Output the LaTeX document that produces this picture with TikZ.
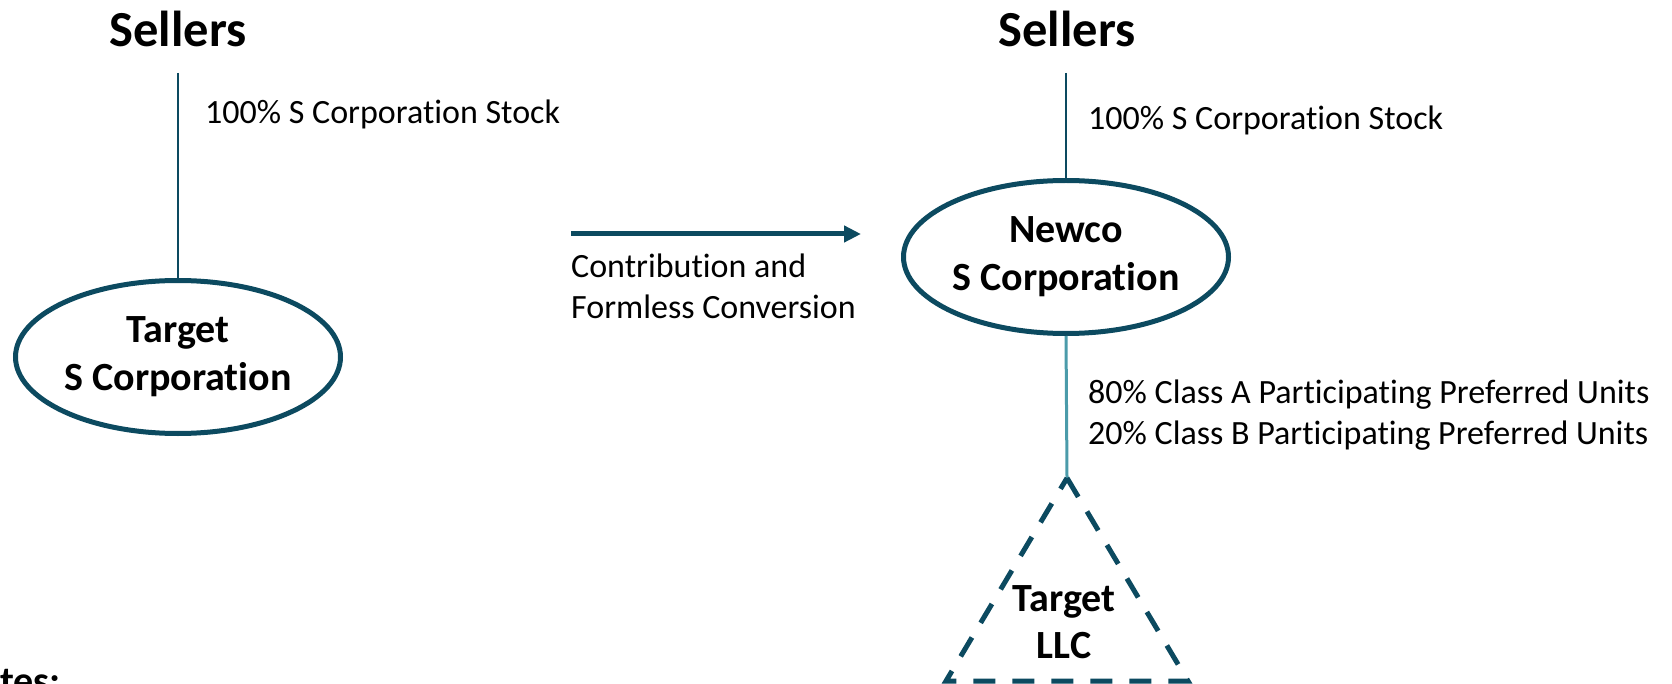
\documentclass[tikz,border=0pt]{standalone}
\usepackage{fontspec}
\setmainfont{Carlito}[RawFeature={-liga}]
\usetikzlibrary{shapes.geometric,arrows.meta}
\definecolor{dteal}{HTML}{0C4A60}
\definecolor{lteal}{HTML}{4B9BAA}
\begin{document}
\begin{tikzpicture}[x=1pt,y=-1pt,
  title/.style={font=\fontsize{50.5}{60}\selectfont\bfseries, inner sep=0pt, anchor=base},
  lbl/.style={font=\fontsize{34}{41}\selectfont, inner sep=0pt, anchor=base west, align=left},
  entity/.style={ellipse, draw=dteal, line width=5pt, minimum width=325pt, minimum height=153pt, inner sep=0pt, align=center, font=\fontsize{40}{48}\selectfont\bfseries},
  link/.style={draw=dteal, line width=2.5pt},
  ]
\useasboundingbox (0,0) rectangle (1672,684);
% left structure
\node[title] (sellersL) at (178,47) {Sellers};
\coordinate (topL) at (178,73);
\node[entity] (targetS) at (178,357) {Target\\S Corporation};
\draw[link] (topL) -- (targetS.north);
\node[lbl] (stockL) at (205,124) {100\% S Corporation Stock};
% arrow
\coordinate (arrS) at (571,234);
\coordinate (arrE) at (861,234);
\draw[draw=dteal, fill=dteal, line width=5pt, -{Triangle[length=17pt,width=16pt]}] (arrS) -- (arrE);
\node[lbl] (contrib) at (571,319) {Contribution and\\Formless Conversion};
% right structure
\node[title] (sellersR) at (1067,47) {Sellers};
\coordinate (topR) at (1066,73);
\node[entity] (newco) at (1066,257) {Newco\\S Corporation};
\draw[link] (topR) -- (newco.north);
\node[lbl] (stockR) at (1088,130) {100\% S Corporation Stock};
\node[lbl] (units) at (1088,444) {80\% Class A Participating Preferred Units\\20\% Class B Participating Preferred Units};
% triangle
\coordinate (apex) at (1067,478);
\coordinate (bl) at (946,681);
\coordinate (br) at (1188,681);
\draw[draw=lteal, line width=3pt] (newco.south) -- (apex);
\draw[draw=dteal, line width=5pt, dash pattern=on 22pt off 17pt] (apex) -- (br) -- (bl) -- cycle;
\node[align=center, inner sep=0pt, font=\fontsize{40}{47}\selectfont\bfseries] (llc) at (1064,622) {Target\\LLC};
% notes (cut by the frame)
\node[inner sep=0pt, anchor=base west, font=\fontsize{40}{47}\selectfont\bfseries] (notes) at (-48,694) {Notes:};
\end{tikzpicture}
\end{document}
